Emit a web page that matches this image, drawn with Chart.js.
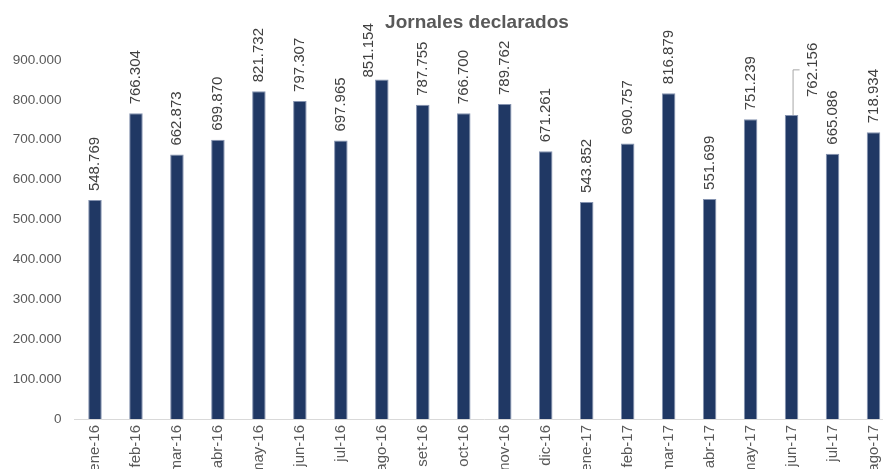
<!DOCTYPE html>
<html>
<head>
<meta charset="utf-8">
<script src="https://cdn.jsdelivr.net/npm/chart.js@4"></script>
<style>
  html, body { margin: 0; padding: 0; background: #fff; overflow: hidden; }
  #wrap { width: 900px; height: 480px; }
</style>
</head>
<body>
<div id="wrap"><canvas id="jornales-chart" width="900" height="480"></canvas></div>
<script>
'use strict';

// Data ********** //
let monthLabels = ['ene-16', 'feb-16', 'mar-16', 'abr-16', 'may-16', 'jun-16', 'jul-16', 'ago-16', 'set-16', 'oct-16',
  'nov-16', 'dic-16', 'ene-17', 'feb-17', 'mar-17', 'abr-17', 'may-17', 'jun-17', 'jul-17', 'ago-17'];
let jornales = [548769, 766304, 662873, 699870, 821732, 797307, 697965, 851154, 787755, 766700,
  789762, 671261, 543852, 690757, 816879, 551699, 751239, 762156, 665086, 718934];
let yTicks = [0, 100000, 200000, 300000, 400000, 500000, 600000, 700000, 800000, 900000];

let chartTitle = 'Jornales declarados';
let fontName = '"Liberation Sans", Arial, sans-serif';

// labels that Excel moved away from the bar (one of them with a leader line)
let movedLabels = {
  7: { dx: -13, dy: 7, leader: false },
  17: { dx: 21, dy: -9, leader: true }
};

// Helpers ********//
function formatNumber(value) {
  return String(value).replace(/\B(?=(\d{3})+(?!\d))/g, '.');
}

// title drawn by hand so it sits where the reference has it
let titlePlugin = {
  id: 'titleText',
  afterDraw(chart) {
    let c = chart.ctx;
    c.save();
    c.font = 'bold 19px ' + fontName;
    c.fillStyle = '#595959';
    c.textAlign = 'center';
    c.textBaseline = 'alphabetic';
    c.fillText(chartTitle, 477, 28);
    c.restore();
  }
};

// rotated value labels above every bar
let valueLabelPlugin = {
  id: 'valueLabels',
  afterDatasetsDraw(chart) {
    let c = chart.ctx;
    let bars = chart.getDatasetMeta(0).data;
    c.save();
    c.font = '15px ' + fontName;
    c.fillStyle = '#404040';
    c.textAlign = 'left';
    c.textBaseline = 'middle';
    for (let i = 0; i < bars.length; i++) {
      let bar = bars[i];
      let text = formatNumber(jornales[i]);
      let x = bar.x;
      let y = bar.y - 9;
      let moved = movedLabels[i];
      if (moved) {
        x += moved.dx;
        y += moved.dy;
        if (moved.leader) {
          // leader line from the bar top to the middle of the label
          let midY = y - c.measureText(text).width / 2;
          c.beginPath();
          c.strokeStyle = '#A6A6A6';
          c.lineWidth = 1;
          c.moveTo(bar.x + 1.5, bar.y);
          c.lineTo(bar.x + 1.5, midY);
          c.lineTo(x - 13, midY);
          c.stroke();
        }
      }
      c.save();
      c.translate(x, y);
      c.rotate(-Math.PI / 2);
      c.fillText(text, 0, 0);
      c.restore();
    }
    c.restore();
  }
};

let ctx = document.getElementById('jornales-chart');

let chartObj = {
  type: 'bar',
  data: {
    labels: monthLabels,
    datasets: [{
      label: chartTitle,
      data: jornales,
      backgroundColor: '#203864',
      borderColor: '#8593B0',
      borderWidth: 1,
      barPercentage: 0.33,
      categoryPercentage: 1
    }]
  },
  options: {
    responsive: false,
    animation: false,
    layout: {
      padding: { top: 60, right: 6, bottom: 0, left: 0 }
    },
    plugins: {
      legend: { display: false },
      title: { display: false },
      tooltip: { enabled: false }
    },
    scales: {
      x: {
        grid: { display: false, drawTicks: false },
        border: { display: true, color: '#D9D9D9', width: 1 },
        ticks: {
          autoSkip: false,
          minRotation: 90,
          maxRotation: 90,
          padding: 6,
          color: '#595959',
          font: { family: fontName, size: 15 }
        },
        afterFit(scale) {
          scale.height = 61;
        }
      },
      y: {
        min: 0,
        max: 900000,
        grid: { display: false, drawTicks: false },
        border: { display: false },
        afterBuildTicks(scale) {
          scale.ticks = yTicks.map(v => ({ value: v }));
        },
        ticks: {
          padding: 13,
          color: '#595959',
          font: { family: fontName, size: 13.5 },
          callback: value => formatNumber(value)
        },
        afterFit(scale) {
          scale.width = 74.5;
        }
      }
    }
  },
  plugins: [titlePlugin, valueLabelPlugin]
};

new Chart(ctx, chartObj);
</script>
</body>
</html>
